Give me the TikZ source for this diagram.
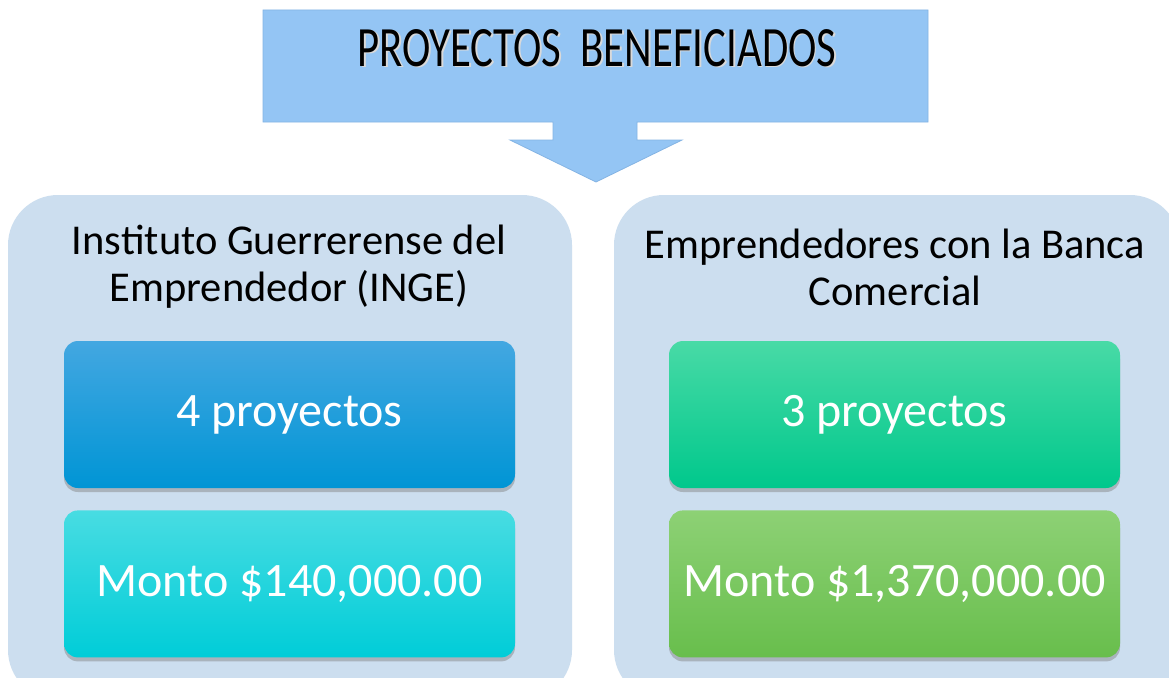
\documentclass[tikz,border=0pt]{standalone}
\usepackage{fontspec}
\setmainfont{Carlito}
\newfontfamily\bannerfont{Carlito}[FakeStretch=0.75]
\usetikzlibrary{positioning,shadows}

\definecolor{panelbg}{HTML}{CCDEEF}
\definecolor{bannerfill}{HTML}{94C5F4}
\definecolor{bannerline}{HTML}{84B4E4}
\definecolor{blueA}{HTML}{43A7E1}
\definecolor{blueB}{HTML}{0AA0E3}
\definecolor{blueC}{HTML}{0095D5}
\definecolor{cyanA}{HTML}{48DCE2}
\definecolor{cyanB}{HTML}{14D8E0}
\definecolor{cyanC}{HTML}{00CDD8}
\definecolor{greenA}{HTML}{48DAA6}
\definecolor{greenB}{HTML}{06D49A}
\definecolor{greenC}{HTML}{00C88C}
\definecolor{limeA}{HTML}{8DD175}
\definecolor{limeB}{HTML}{7ECB60}
\definecolor{limeC}{HTML}{68BE4C}

\tikzset{
  panel/.style={
    fill=panelbg,
    rounded corners=50pt
  },
  heading/.style={
    align=center,
    text=black,
    font=\fontsize{42.5}{47}\selectfont
  },
  figure box/.style={
    shape=rectangle,
    rounded corners=14pt,
    minimum width=451pt,
    minimum height=147pt,
    top color=#1A,
    middle color=#1B,
    bottom color=#1C,
    text=white,
    font=\fontsize{48}{55}\selectfont,
    drop shadow={shadow xshift=0pt,shadow yshift=-4pt,opacity=.45}
  },
  banner/.style={
    fill=bannerfill,
    draw=bannerline,
    line width=0.8pt
  },
  banner text/.style={
    font=\bannerfont\fontsize{57}{62}\selectfont
  }
}

\begin{document}
\begin{tikzpicture}[x=1pt,y=-1pt]
  \useasboundingbox (0,0) rectangle (1169,677);
  \fill[white] (0,0) rectangle (1169,677);

  % banner arrow
  \draw[banner] (263,10) -- (928,10) -- (928,122) -- (637,122) -- (637,140)
    -- (682,140) -- (596,182) -- (510,140) -- (553,140) -- (553,122)
    -- (263,122) -- cycle;
  \node[banner text, text=gray!30] (titleshade) at (598.5,49.5) {PROYECTOS\ \ BENEFICIADOS};
  \node[banner text, text=black] (title) at (597,48) {PROYECTOS\ \ BENEFICIADOS};

  % panels
  \fill[panel] (8,195) rectangle (572,700);
  \fill[panel] (614,195) rectangle (1180,700);

  \node[heading] (inge) at (289,267) {Instituto Guerrerense del\\Emprendedor (INGE)};
  \node[heading] (banca) at (895,267) {Emprendedores con la Banca\\Comercial};

  % left column
  \node[figure box=blue] (ingeprojects) at (289.5,414.5) {4 proyectos};
  \node[figure box=cyan, below=22pt of ingeprojects] (ingeamount) {Monto \$140,000.00};

  % right column
  \node[figure box=green] (bancaprojects) at (894.5,414.5) {3 proyectos};
  \node[figure box=lime, below=22pt of bancaprojects] (bancaamount) {Monto \$1,370,000.00};
\end{tikzpicture}
\end{document}
